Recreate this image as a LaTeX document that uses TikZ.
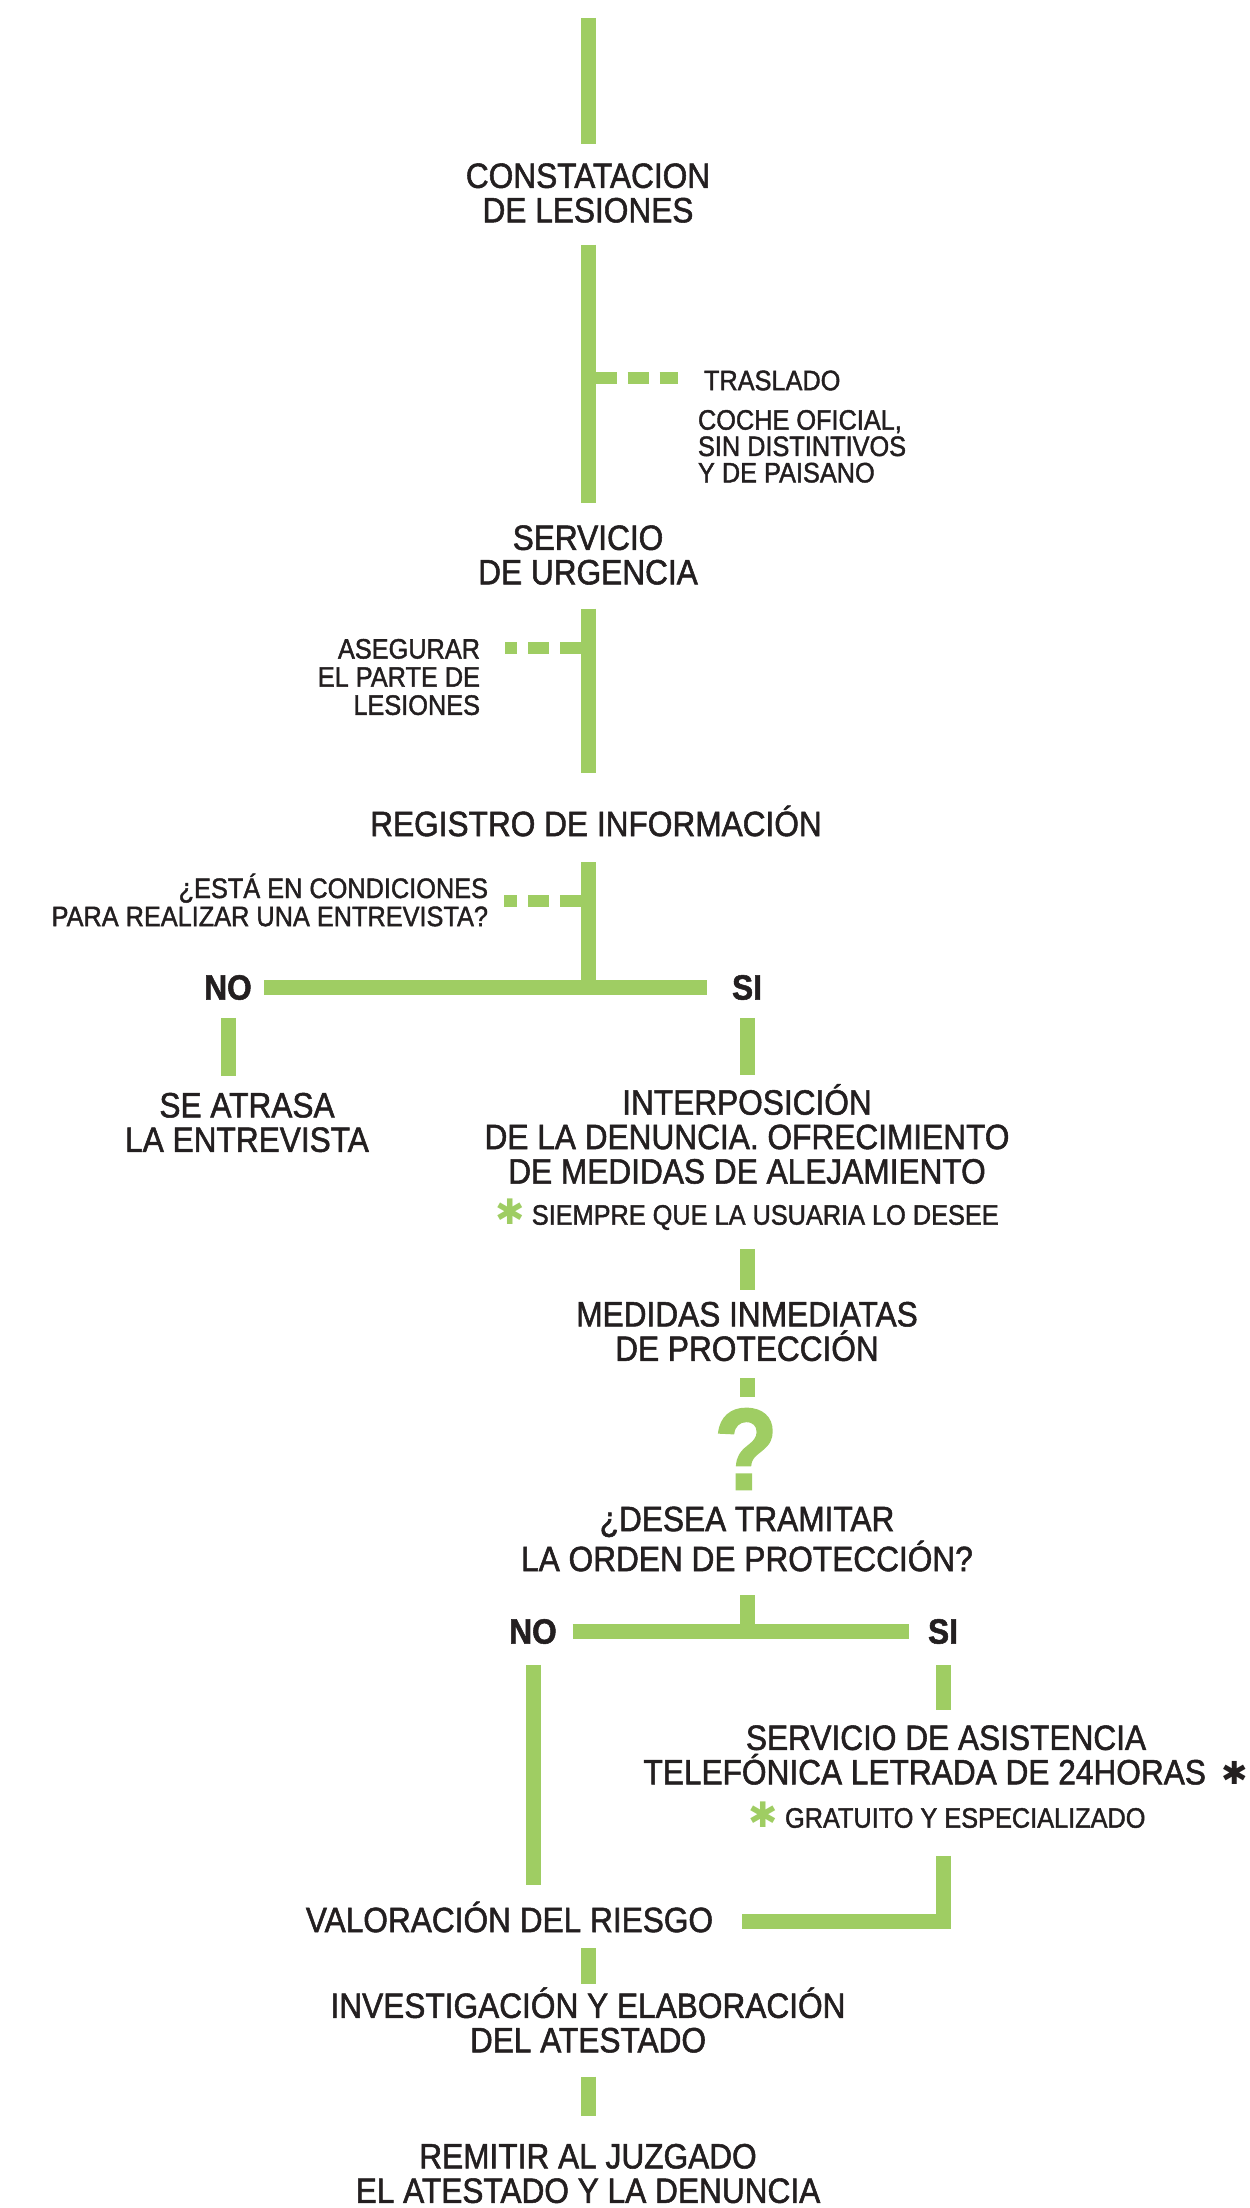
\documentclass[tikz,border=0pt]{standalone}
\usepackage{fontspec}
\setmainfont{Liberation Sans}[FakeStretch=0.9, FakeBold=1.5]
\newfontfamily\dingfont{DejaVu Sans}
\usepackage{tikz}

\definecolor{leaf}{RGB}{159,205,99}
\definecolor{ink}{RGB}{35,31,32}
\newcommand{\greenstar}{{\color{leaf}\fontsize{10}{8}\dingfont ✱}}
\newcommand{\inkstar}{{\fontsize{9}{9}\dingfont ✱}}

\begin{document}
\begin{tikzpicture}
[
	               y = -1cm,
	     bar/.style = { draw=leaf, line width=0.15cm },
	 dashbar/.style = { draw=leaf, line width=0.12cm, dash pattern=on 0.21cm off 0.11cm },
	   stage/.style = { inner sep=0pt, outer sep=0pt, align=center, text=ink,
	                    font=\fontsize{10}{9.8}\selectfont },
	  remark/.style = { inner sep=0pt, outer sep=0pt, text=ink,
	                    font=\fontsize{8}{8}\selectfont },
	  answer/.style = { inner sep=0pt, outer sep=0pt, text=ink,
	                    font=\fontsize{10}{9.8}\selectfont\bfseries }
]
	\useasboundingbox (0,0) rectangle (12.49,22.08);

	% nodes
	\coordinate (top) at (5.88,0.18);
	\node (constat)    at (5.88,1.93)    [stage]   {CONSTATACION\\DE LESIONES};
	\node (traslado)   at (7.04,3.805)   [remark, anchor=west] {TRASLADO};
	\node (coche)      at (6.98,4.10)    [remark, anchor=north west, align=left,
	                                      font=\fontsize{8}{7.5}\selectfont]
	                                     {COCHE OFICIAL,\\SIN DISTINTIVOS\\Y DE PAISANO};
	\node (servicio)   at (5.88,5.55)    [stage]   {SERVICIO\\DE URGENCIA};
	\node (asegurar)   at (4.80,6.77)    [remark, anchor=east, align=right]
	                                     {ASEGURAR\\EL PARTE DE\\LESIONES};
	\node (registro)   at (5.96,8.21)    [stage]   {REGISTRO DE INFORMACIÓN};
	\node (entrevista) at (4.88,9.00)    [remark, anchor=east, align=right]
	                                     {¿ESTÁ EN CONDICIONES\\PARA REALIZAR UNA ENTREVISTA?};

	\node (no1)        at (2.28,9.875)   [answer]  {NO};
	\node (si1)        at (7.47,9.875)   [answer]  {SI};
	\node (atrasa)     at (2.47,11.225)  [stage]   {SE ATRASA\\LA ENTREVISTA};
	\node (interpos)   at (7.47,11.34)   [stage]   {INTERPOSICIÓN\\DE LA DENUNCIA. OFRECIMIENTO\\DE MEDIDAS DE ALEJAMIENTO};
	\node (siempre)    at (7.47,12.145)  [remark]  {\greenstar\ SIEMPRE QUE LA USUARIA LO DESEE};
	\node (medidas)    at (7.47,13.315)  [stage]   {MEDIDAS INMEDIATAS\\DE PROTECCIÓN};
	\node (pregunta)   at (7.46,14.49)   [inner sep=0pt, text=leaf,
	                                      font=\fontsize{33}{33}\selectfont\bfseries] {?};
	\node (desea)      at (7.47,15.39)   [stage]   {¿DESEA TRAMITAR\\LA ORDEN DE PROTECCIÓN?};

	\node (no2)        at (5.33,16.315)  [answer]  {NO};
	\node (si2)        at (9.43,16.315)  [answer]  {SI};
	\node (asistencia) at (9.46,17.55)   [stage]   {SERVICIO DE ASISTENCIA\\TELEFÓNICA LETRADA DE 24HORAS\hspace{0.16cm}\inkstar};
	\node (gratuito)   at (9.47,18.15)   [remark]  {\greenstar\ GRATUITO Y ESPECIALIZADO};
	\node (valoracion) at (5.095,19.17)  [stage]   {VALORACIÓN DEL RIESGO};
	\node (investiga)  at (5.88,20.20)   [stage]   {INVESTIGACIÓN Y ELABORACIÓN\\DEL ATESTADO};
	\node (remitir)    at (5.88,21.735)  [stage]   {REMITIR AL JUZGADO\\EL ATESTADO Y LA DENUNCIA};

	\coordinate (trasladobr) at (5.88,3.775);
	\coordinate (urgenciabr) at (5.88,6.48);
	\coordinate (registrobr) at (5.88,9.01);

	% edges
	\draw [bar, shorten >=0.19cm] (top) -- (constat);
	\draw [bar, shorten <=0.22cm, shorten >=0.22cm] (constat) -- (servicio);
	\draw [bar, shorten <=0.24cm, shorten >=0.33cm] (servicio) -- (servicio |- registro.north);
	\draw [bar, shorten <=0.26cm] (servicio |- registro.south) -- (servicio |- si1);
	\draw [bar, shorten <=0.125cm, shorten >=0.25cm] (no1) -- (si1);

	\draw [dashbar, shorten <=0.075cm, shorten >=0.26cm] (trasladobr) -- (trasladobr -| traslado.west);
	\draw [dashbar, shorten <=0.075cm, shorten >=0.25cm] (urgenciabr) -- (urgenciabr -| asegurar.east);
	\draw [dashbar, shorten <=0.075cm, shorten >=0.16cm] (registrobr) -- (registrobr -| entrevista.east);

	\draw [bar, shorten <=0.18cm, shorten >=0.17cm] (no1) -- (no1 |- atrasa.north);
	\draw [bar, shorten <=0.18cm, shorten >=0.09cm] (si1) -- (interpos);
	\draw [bar, shorten <=0.19cm, shorten >=0.12cm] (siempre) -- (medidas);
	\draw [bar, shorten <=0.17cm, shorten >=0.11cm] (medidas) -- (medidas |- pregunta.north);
	\draw [bar, shorten <=0.24cm] (desea.south) -- (desea |- si2);
	\draw [bar, shorten <=0.16cm, shorten >=0.19cm] (no2) -- (si2);

	\draw [bar, shorten <=0.21cm, shorten >=0.17cm] (no2) -- (no2 |- valoracion.north);
	\draw [bar, shorten <=0.21cm, shorten >=0.15cm] (si2) -- (si2 |- asistencia.north);
	\draw [bar, shorten <=0.28cm, shorten >=0.29cm] (si2 |- gratuito.south) |- ([yshift=-0.04cm]valoracion.east);
	\draw [bar, shorten <=0.16cm, shorten >=0.03cm] (investiga |- valoracion.south) -- (investiga);
	\draw [bar, shorten <=0.24cm, shorten >=0.28cm] (investiga) -- (remitir);

\end{tikzpicture}
\end{document}
